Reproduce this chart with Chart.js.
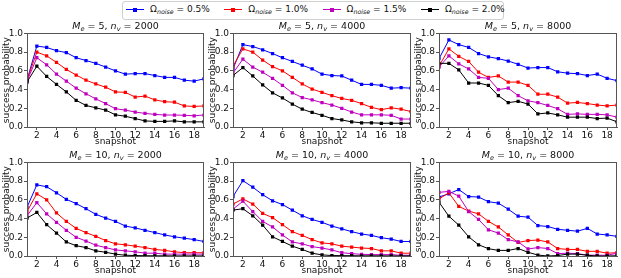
<!DOCTYPE html>
<html><head><meta charset="utf-8">
<script src="https://cdn.jsdelivr.net/npm/chart.js@4/dist/chart.umd.min.js"></script>
<style>
html,body{margin:0;padding:0;background:#fff;}
body{width:621px;height:278px;position:relative;overflow:hidden;font-family:"DejaVu Sans",sans-serif;color:#111;}
canvas{position:absolute;}
.ttl{position:absolute;font-size:9.5px;line-height:12px;white-space:nowrap;transform:translateX(-50%);}
.ttl sub, .leg sub{font-size:70%;vertical-align:-2px;line-height:0;}
.legbox{position:absolute;left:122px;top:1px;width:380px;height:17px;border:1px solid #d0d0d0;border-radius:3px;box-sizing:content-box;}
.leg{position:absolute;top:3px;font-size:9px;line-height:12px;white-space:nowrap;}
.sw{position:absolute;top:6px;width:18px;height:1px;}
.sw i{position:absolute;left:7px;top:-1.5px;width:4px;height:4px;}
</style>
</head><body>
<div class="legbox" id="legbox"></div>
<script>
// ---- data ----
const snapshots = [1,2,3,4,5,6,7,8,9,10,11,12,13,14,15,16,17,18,19];
const xTickValues = [2,4,6,8,10,12,14,16,18];
const yTickValues = [0,0.2,0.4,0.6,0.8,1.0];
const noiseLevels = ['0.5%','1.0%','1.5%','2.0%'];
const MeValues = [5,5,5,10,10,10];
const nvValues = [2000,4000,8000,2000,4000,8000];

// M_e = 5, n_v = 2000
const me5nv2000_n05 = [0.50,0.865,0.85,0.815,0.795,0.74,0.71,0.68,0.64,0.60,0.565,0.57,0.57,0.55,0.53,0.53,0.50,0.49,0.515];
const me5nv2000_n10 = [0.50,0.80,0.76,0.69,0.615,0.555,0.50,0.46,0.425,0.375,0.37,0.32,0.33,0.29,0.27,0.265,0.225,0.22,0.225];
const me5nv2000_n15 = [0.49,0.74,0.665,0.565,0.49,0.415,0.355,0.30,0.25,0.195,0.18,0.16,0.145,0.135,0.128,0.128,0.125,0.12,0.128];
const me5nv2000_n20 = [0.48,0.65,0.54,0.455,0.375,0.285,0.23,0.205,0.18,0.13,0.115,0.09,0.065,0.06,0.06,0.065,0.055,0.055,0.055];
// M_e = 5, n_v = 4000
const me5nv4000_n05 = [0.62,0.88,0.86,0.825,0.785,0.74,0.70,0.66,0.62,0.565,0.55,0.545,0.50,0.455,0.455,0.445,0.415,0.42,0.415];
const me5nv4000_n10 = [0.65,0.835,0.80,0.715,0.645,0.60,0.53,0.46,0.405,0.37,0.335,0.305,0.285,0.25,0.21,0.185,0.205,0.19,0.165];
const me5nv4000_n15 = [0.575,0.725,0.64,0.585,0.52,0.445,0.365,0.315,0.29,0.26,0.235,0.20,0.16,0.13,0.13,0.13,0.125,0.085,0.085];
const me5nv4000_n20 = [0.55,0.635,0.545,0.45,0.365,0.31,0.245,0.19,0.155,0.125,0.09,0.075,0.055,0.045,0.045,0.04,0.04,0.04,0.04];
// M_e = 5, n_v = 8000
const me5nv8000_n05 = [0.73,0.93,0.88,0.85,0.785,0.75,0.73,0.705,0.67,0.63,0.635,0.635,0.59,0.575,0.57,0.55,0.565,0.52,0.495];
const me5nv8000_n10 = [0.65,0.835,0.755,0.70,0.585,0.53,0.545,0.48,0.48,0.445,0.35,0.35,0.32,0.255,0.262,0.25,0.235,0.225,0.235];
const me5nv8000_n15 = [0.64,0.76,0.675,0.62,0.53,0.52,0.40,0.415,0.335,0.28,0.26,0.23,0.195,0.135,0.14,0.135,0.135,0.13,0.105];
const me5nv8000_n20 = [0.68,0.68,0.61,0.47,0.47,0.445,0.335,0.26,0.275,0.245,0.14,0.15,0.13,0.105,0.105,0.105,0.09,0.095,0.055];
// M_e = 10, n_v = 2000
const me10nv2000_n05 = [0.52,0.76,0.74,0.675,0.605,0.56,0.505,0.445,0.405,0.37,0.32,0.30,0.275,0.25,0.225,0.205,0.19,0.175,0.155];
const me10nv2000_n10 = [0.475,0.665,0.60,0.46,0.37,0.295,0.25,0.21,0.165,0.13,0.12,0.105,0.09,0.07,0.06,0.045,0.035,0.035,0.035];
const me10nv2000_n15 = [0.43,0.57,0.45,0.36,0.275,0.20,0.16,0.115,0.09,0.065,0.055,0.045,0.03,0.03,0.02,0.02,0.02,0.02,0.02];
const me10nv2000_n20 = [0.405,0.465,0.335,0.245,0.15,0.11,0.09,0.055,0.04,0.02,0.008,0.005,0.003,0.002,0.002,0.001,0.001,0.001,0.001];
// M_e = 10, n_v = 4000
const me10nv4000_n05 = [0.635,0.805,0.735,0.655,0.59,0.55,0.49,0.43,0.39,0.36,0.32,0.29,0.26,0.235,0.22,0.195,0.18,0.155,0.155];
const me10nv4000_n10 = [0.555,0.61,0.555,0.455,0.41,0.335,0.26,0.22,0.175,0.14,0.13,0.105,0.095,0.085,0.08,0.055,0.055,0.03,0.03];
const me10nv4000_n15 = [0.50,0.585,0.475,0.37,0.31,0.225,0.15,0.13,0.10,0.085,0.065,0.035,0.025,0.018,0.015,0.015,0.015,0.008,0.008];
const me10nv4000_n20 = [0.49,0.505,0.43,0.33,0.205,0.155,0.105,0.07,0.03,0.012,0.005,0.004,0.003,0.002,0.002,0.002,0.001,0.001,0.001];
// M_e = 10, n_v = 8000
const me10nv8000_n05 = [0.63,0.665,0.71,0.635,0.63,0.58,0.565,0.50,0.425,0.415,0.325,0.315,0.285,0.275,0.265,0.295,0.235,0.225,0.21];
const me10nv8000_n10 = [0.61,0.675,0.53,0.48,0.45,0.37,0.31,0.225,0.145,0.165,0.17,0.15,0.08,0.07,0.07,0.05,0.05,0.03,0.035];
const me10nv8000_n15 = [0.68,0.69,0.64,0.475,0.39,0.28,0.245,0.175,0.15,0.075,0.09,0.08,0.025,0.03,0.025,0.01,0.008,0.008,0.03];
const me10nv8000_n20 = [0.575,0.425,0.33,0.205,0.12,0.078,0.06,0.06,0.08,0.04,0.01,0.0,0.005,0.02,0.02,0.008,0.0,0.0,0.003];

const panelSeries = [
  [me5nv2000_n05, me5nv2000_n10, me5nv2000_n15, me5nv2000_n20],
  [me5nv4000_n05, me5nv4000_n10, me5nv4000_n15, me5nv4000_n20],
  [me5nv8000_n05, me5nv8000_n10, me5nv8000_n15, me5nv8000_n20],
  [me10nv2000_n05, me10nv2000_n10, me10nv2000_n15, me10nv2000_n20],
  [me10nv4000_n05, me10nv4000_n10, me10nv4000_n15, me10nv4000_n20],
  [me10nv8000_n05, me10nv8000_n10, me10nv8000_n15, me10nv8000_n20]
];

// ---- style / layout ----
const colors = ['#0000ff','#ff0000','#bf00bf','#000000'];
const FONT = 'DejaVu Sans';
Chart.defaults.font.family = FONT;
Chart.defaults.font.size = 9;
Chart.defaults.color = '#111';

const colLeft = [27, 233, 439];
const colWidth = [177, 178, 178];
const rowTop = [33, 162];
const plotH = 94;
const yAxisW = 27, xAxisH = 22, padTop = 6, padRight = 4;

const frame = {
  id: 'frame',
  afterDraw(chart) {
    const {ctx, chartArea: a} = chart;
    ctx.save();
    ctx.strokeStyle = '#555';
    ctx.lineWidth = 1;
    ctx.strokeRect(Math.round(a.left) + 0.5, Math.round(a.top) + 0.5,
                   Math.round(a.right - a.left) - 1, Math.round(a.bottom - a.top));
    ctx.restore();
  }
};

// legend
const legbox = document.getElementById('legbox');
noiseLevels.forEach((lv, i) => {
  const x0 = 126 + i * 98.3;
  const sw = document.createElement('div');
  sw.className = 'sw';
  sw.style.left = (x0) + 'px';
  sw.style.top = '9px';
  sw.style.background = colors[i];
  const mk = document.createElement('i');
  mk.style.background = colors[i];
  sw.appendChild(mk);
  document.body.appendChild(sw);
  const t = document.createElement('div');
  t.className = 'leg';
  t.style.left = (x0 + 24) + 'px';
  t.innerHTML = 'Ω<sub><i>noise</i></sub> = ' + lv;
  document.body.appendChild(t);
});

for (let p = 0; p < 6; p++) {
  const r = Math.floor(p / 3), c = p % 3;
  const cv = document.createElement('canvas');
  const w = yAxisW + colWidth[c] + padRight;
  const h = padTop + plotH + xAxisH;
  cv.width = w; cv.height = h;
  cv.style.width = w + 'px'; cv.style.height = h + 'px';
  cv.style.left = (colLeft[c] - yAxisW) + 'px';
  cv.style.top = (rowTop[r] - padTop) + 'px';
  document.body.appendChild(cv);

  const tt = document.createElement('div');
  tt.className = 'ttl';
  tt.style.left = (colLeft[c] + colWidth[c] / 2) + 'px';
  tt.style.top = (rowTop[r] - 13) + 'px';
  tt.innerHTML = '<i>M</i><sub><i>e</i></sub> = ' + MeValues[p] + ', <i>n</i><sub><i>v</i></sub> = ' + nvValues[p];
  document.body.appendChild(tt);

  new Chart(cv.getContext('2d'), {
    type: 'line',
    data: {
      datasets: panelSeries[p].map((vals, i) => ({
        label: 'Ω noise = ' + noiseLevels[i],
        data: snapshots.map((s, j) => ({x: s, y: vals[j]})),
        borderColor: colors[i],
        backgroundColor: colors[i],
        borderWidth: 1,
        pointStyle: 'rect',
        pointRadius: 2.3,
        pointBorderWidth: 0,
        tension: 0,
        order: 3 - i
      }))
    },
    options: {
      responsive: false,
      animation: false,
      devicePixelRatio: 1,
      layout: {padding: {top: padTop, right: padRight, left: 0, bottom: 0}},
      plugins: {legend: {display: false}, tooltip: {enabled: false}},
      scales: {
        x: {
          type: 'linear', min: 1, max: 19,
          afterBuildTicks: s => { s.ticks = xTickValues.map(v => ({value: v})); },
          afterFit: s => { s.height = xAxisH; },
          grid: {drawOnChartArea: false, tickLength: 3, color: '#555'},
          border: {color: '#555'},
          ticks: {padding: 0, maxRotation: 0, autoSkip: false, color: '#111', font: {size: 9}},
          title: {display: true, text: 'snapshot', color: '#111', font: {size: 9}, padding: {top: 0, bottom: 1.5}}
        },
        y: {
          min: 0, max: 1,
          afterBuildTicks: s => { s.ticks = yTickValues.map(v => ({value: v})); },
          afterFit: s => { s.width = yAxisW; },
          grid: {drawOnChartArea: false, tickLength: 3, color: '#555'},
          border: {color: '#555'},
          ticks: {padding: 1, color: '#111', font: {size: 9}, callback: v => Number(v).toFixed(1)},
          title: {display: true, text: 'success probability', color: '#111', font: {size: 9}, padding: {top: 1.5, bottom: 0}}
        }
      }
    },
    plugins: [frame]
  });
}
</script>
</body></html>
